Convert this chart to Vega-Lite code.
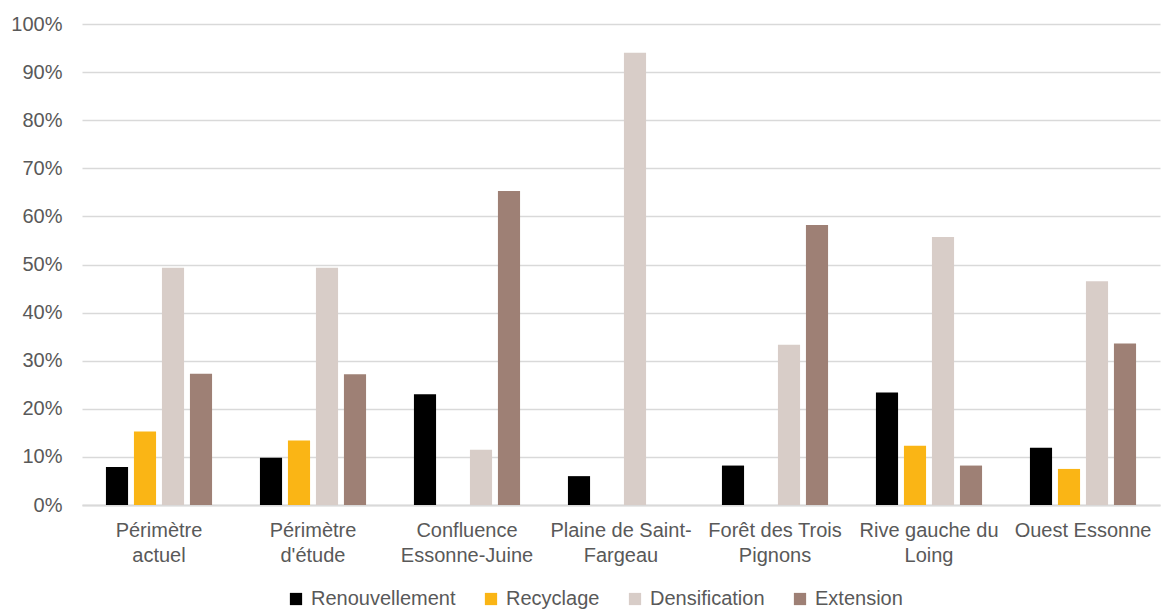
{
  "$schema": "https://vega.github.io/schema/vega-lite/v6.json",
  "autosize": "none",
  "width": 1078,
  "height": 481,
  "padding": {"left": 82, "top": 24, "right": 6, "bottom": 106},
  "background": "white",
  "config": {
    "font": "Liberation Sans",
    "view": {"stroke": null},
    "axis": {"labelFont": "Liberation Sans", "labelColor": "#595959", "labelFontSize": 20},
    "legend": {"labelFont": "Liberation Sans", "labelColor": "#595959", "labelFontSize": 20}
  },
  "data": {
    "values": [
      {"zone": "Périmètre actuel", "type": "Renouvellement", "value": 0.079},
      {"zone": "Périmètre actuel", "type": "Recyclage", "value": 0.153},
      {"zone": "Périmètre actuel", "type": "Densification", "value": 0.493},
      {"zone": "Périmètre actuel", "type": "Extension", "value": 0.273},
      {"zone": "Périmètre d'étude", "type": "Renouvellement", "value": 0.098},
      {"zone": "Périmètre d'étude", "type": "Recyclage", "value": 0.134},
      {"zone": "Périmètre d'étude", "type": "Densification", "value": 0.493},
      {"zone": "Périmètre d'étude", "type": "Extension", "value": 0.272},
      {"zone": "Confluence Essonne-Juine", "type": "Renouvellement", "value": 0.230},
      {"zone": "Confluence Essonne-Juine", "type": "Recyclage", "value": 0},
      {"zone": "Confluence Essonne-Juine", "type": "Densification", "value": 0.115},
      {"zone": "Confluence Essonne-Juine", "type": "Extension", "value": 0.653},
      {"zone": "Plaine de Saint-Fargeau", "type": "Renouvellement", "value": 0.060},
      {"zone": "Plaine de Saint-Fargeau", "type": "Recyclage", "value": 0},
      {"zone": "Plaine de Saint-Fargeau", "type": "Densification", "value": 0.940},
      {"zone": "Plaine de Saint-Fargeau", "type": "Extension", "value": 0},
      {"zone": "Forêt des Trois Pignons", "type": "Renouvellement", "value": 0.082},
      {"zone": "Forêt des Trois Pignons", "type": "Recyclage", "value": 0},
      {"zone": "Forêt des Trois Pignons", "type": "Densification", "value": 0.333},
      {"zone": "Forêt des Trois Pignons", "type": "Extension", "value": 0.582},
      {"zone": "Rive gauche du Loing", "type": "Renouvellement", "value": 0.234},
      {"zone": "Rive gauche du Loing", "type": "Recyclage", "value": 0.123},
      {"zone": "Rive gauche du Loing", "type": "Densification", "value": 0.557},
      {"zone": "Rive gauche du Loing", "type": "Extension", "value": 0.082},
      {"zone": "Ouest Essonne", "type": "Renouvellement", "value": 0.119},
      {"zone": "Ouest Essonne", "type": "Recyclage", "value": 0.075},
      {"zone": "Ouest Essonne", "type": "Densification", "value": 0.465},
      {"zone": "Ouest Essonne", "type": "Extension", "value": 0.336}
    ]
  },
  "mark": {"type": "bar"},
  "encoding": {
    "x": {
      "field": "zone",
      "type": "nominal",
      "sort": null,
      "title": null,
      "scale": {"paddingInner": 0, "paddingOuter": 0},
      "axis": {
        "labelAngle": 0,
        "ticks": false,
        "domain": true,
        "domainColor": "#d9d9d9",
        "domainWidth": 2,
        "labelPadding": 15,
        "labelLineHeight": 25,
        "labelBaseline": "top",
        "labelExpr": "{'Périmètre actuel': ['Périmètre', 'actuel'], \"Périmètre d'étude\": ['Périmètre', \"d'étude\"], 'Confluence Essonne-Juine': ['Confluence', 'Essonne-Juine'], 'Plaine de Saint-Fargeau': ['Plaine de Saint-', 'Fargeau'], 'Forêt des Trois Pignons': ['Forêt des Trois', 'Pignons'], 'Rive gauche du Loing': ['Rive gauche du', 'Loing'], 'Ouest Essonne': ['Ouest Essonne']}[datum.label]"
      }
    },
    "xOffset": {
      "field": "type",
      "type": "nominal",
      "sort": ["Renouvellement", "Recyclage", "Densification", "Extension"],
      "scale": {"paddingInner": 0.21, "paddingOuter": 0.855}
    },
    "y": {
      "field": "value",
      "type": "quantitative",
      "title": null,
      "scale": {"domain": [0, 1]},
      "axis": {
        "values": [0, 0.1, 0.2, 0.3, 0.4, 0.5, 0.6, 0.7, 0.8, 0.9, 1],
        "format": ".0%",
        "ticks": false,
        "domain": false,
        "labelPadding": 20,
        "gridColor": "#d9d9d9",
        "gridWidth": 1.5
      }
    },
    "color": {
      "field": "type",
      "type": "nominal",
      "sort": ["Renouvellement", "Recyclage", "Densification", "Extension"],
      "scale": {
        "domain": ["Renouvellement", "Recyclage", "Densification", "Extension"],
        "range": ["#000000", "#FAB515", "#D8CDC8", "#9E8075"]
      },
      "legend": {
        "title": null,
        "orient": "none",
        "direction": "horizontal",
        "legendX": 204,
        "legendY": 565,
        "symbolType": "square",
        "symbolSize": 150,
        "symbolStrokeWidth": 0,
        "labelOffset": 5,
        "columnPadding": 25
      }
    }
  }
}
